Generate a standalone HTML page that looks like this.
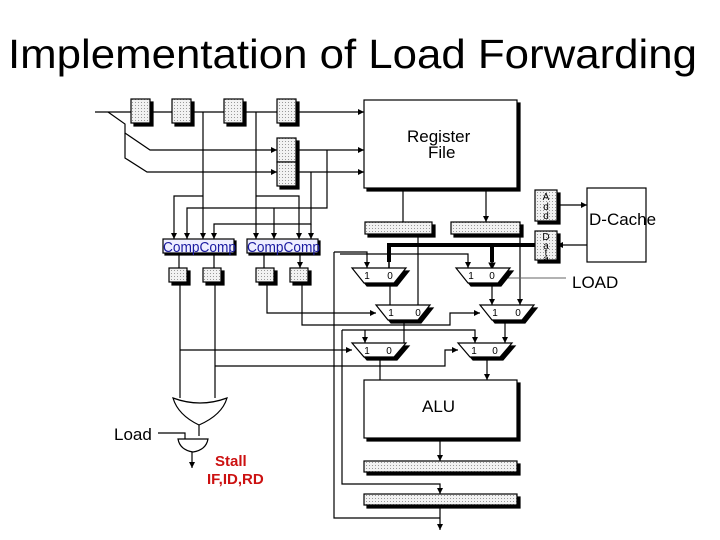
<!DOCTYPE html>
<html><head><meta charset="utf-8"><style>
body{margin:0;background:#fff;width:720px;height:540px;overflow:hidden}
svg{display:block}
</style></head><body>
<svg width="720" height="540" viewBox="0 0 720 540" xmlns="http://www.w3.org/2000/svg" font-family="Liberation Sans, sans-serif">
<defs>
<pattern id="dot" width="3" height="3" patternUnits="userSpaceOnUse"><rect width="3" height="3" fill="#f2f2f2"/><rect width="1" height="1" fill="#999"/></pattern>
<marker id="ar" markerWidth="6" markerHeight="6" refX="5" refY="3" orient="auto"><path d="M0,0.5 L5,3 L0,5.5z" fill="#000"/></marker>
</defs>
<text x="8" y="68" font-size="41" textLength="689" lengthAdjust="spacingAndGlyphs">Implementation of Load Forwarding</text>
<g stroke="#000" stroke-width="1.2" fill="none">
<path d="M95 112 H131 M150 112 H172 M190 112 H224 M242 112 H277 M296 112 H364" marker-end="url(#ar)"/>
<path d="M108 112 L125 124 V133 L150 150 H277" marker-end="url(#ar)"/>
<path d="M125 133 V158 L147 172 H277" marker-end="url(#ar)"/>
<path d="M296 150 H364" marker-end="url(#ar)"/>
<path d="M296 172 H364" marker-end="url(#ar)"/>
<path d="M203 112 V239" marker-end="url(#ar)"/>
<path d="M203 196 H174 V239" marker-end="url(#ar)"/>
<path d="M327 150 V208 H187 V239" marker-end="url(#ar)"/>
<path d="M256 112 V239" marker-end="url(#ar)"/>
<path d="M256 196 H299 V239" marker-end="url(#ar)"/>
<path d="M274 208 V239" marker-end="url(#ar)"/>
<path d="M311 172 V224 H214 V239" marker-end="url(#ar)"/>
<path d="M311 224 V239" marker-end="url(#ar)"/>
<path d="M179 253 V268 M214 253 V268 M264 253 V268 M300 253 V268" marker-end="url(#ar)"/>
<path d="M180 282 V398 M215 282 V398"/>
<path d="M180 350 H352" marker-end="url(#ar)"/>
<path d="M215 366 H445 V350 H458" marker-end="url(#ar)"/>
<path d="M267 282 V313 H376" marker-end="url(#ar)"/>
<path d="M302 282 V325 H450 V313 H480" marker-end="url(#ar)"/>
<path d="M403 188 V222 M486 188 V222" marker-end="url(#ar)"/>
<path d="M418 234 V305 M520 234 V305" marker-end="url(#ar)"/>
<path d="M535 245 H389 V262 M492 245 V262" stroke-width="4"/>
<path d="M389 262 V270 M492 262 V270" stroke-width="1.5" marker-end="url(#ar)"/>
<path d="M334 252 V518 H440"/>
<path d="M334 252 H367 V268" marker-end="url(#ar)"/>
<path d="M340 254 H468 V268" marker-end="url(#ar)"/>
<path d="M390 283 V305 M492 283 V305" marker-end="url(#ar)"/>
<path d="M404 320 V343 M505 320 V343" marker-end="url(#ar)"/>
<path d="M342 330 H475 V343" marker-end="url(#ar)"/>
<path d="M342 330 V484 H440 V494" marker-end="url(#ar)"/>
<path d="M365 330 V343" marker-end="url(#ar)"/>
<path d="M380 357 V380 M487 357 V380" marker-end="url(#ar)"/>
<path d="M440 438 V461" marker-end="url(#ar)"/>
<path d="M440 505 V530" marker-end="url(#ar)"/>
<path d="M557 205 H587" marker-end="url(#ar)"/>
<path d="M587 245 H557" marker-end="url(#ar)"/>
<path d="M506 278 H566" stroke="#666" stroke-width="1"/>
<path d="M173 398 Q200 408 227 398 Q222 415 199 425 Q178 415 173 398 Z" fill="#fff"/>
<path d="M199 425 V436"/>
<path d="M158 433 H185 V439"/>
<path d="M178 439 H208 Q206 450 193 452 Q180 450 178 439 Z" fill="#fff"/>
<path d="M192 452 V468" marker-end="url(#ar)"/>
</g>
<g stroke="#000" stroke-width="1.2">
<g fill="#000"><rect x="134" y="102" width="19" height="24"/><rect x="175" y="102" width="19" height="24"/><rect x="227" y="102" width="19" height="24"/><rect x="280" y="102" width="19" height="24"/><rect x="280" y="141" width="19" height="48"/>
<rect x="368" y="225" width="67" height="12"/><rect x="454" y="225" width="69" height="12"/>
<rect x="172" y="271" width="18" height="14"/><rect x="206" y="271" width="18" height="14"/><rect x="259" y="271" width="18" height="14"/><rect x="293" y="271" width="18" height="14"/>
<rect x="367" y="464" width="153" height="11"/><rect x="367" y="497" width="153" height="11"/>
<rect x="538" y="193" width="22" height="31"/><rect x="538" y="234" width="22" height="29"/>
<rect x="367" y="103" width="153" height="88"/><rect x="367" y="383" width="153" height="58"/></g>
<g fill="url(#dot)"><rect x="131" y="99" width="19" height="24"/><rect x="172" y="99" width="19" height="24"/><rect x="224" y="99" width="19" height="24"/><rect x="277" y="99" width="19" height="24"/><rect x="277" y="138" width="19" height="24"/><rect x="277" y="162" width="19" height="24"/>
<rect x="365" y="222" width="67" height="12"/><rect x="451" y="222" width="69" height="12"/>
<rect x="169" y="268" width="18" height="14"/><rect x="203" y="268" width="18" height="14"/><rect x="256" y="268" width="18" height="14"/><rect x="290" y="268" width="18" height="14"/>
<rect x="364" y="461" width="153" height="11"/><rect x="364" y="494" width="153" height="11"/>
<rect x="535" y="190" width="22" height="31"/><rect x="535" y="231" width="22" height="29"/></g>
<rect x="364" y="100" width="153" height="88" fill="#fff"/>
<rect x="364" y="380" width="153" height="58" fill="#fff"/>
<rect x="587" y="188" width="59" height="74" fill="#fff"/>
<rect x="165" y="241" width="71" height="14" fill="#000"/><rect x="249" y="241" width="71" height="14" fill="#000"/>
<rect x="163" y="239" width="71" height="14" fill="#eef"/><rect x="247" y="239" width="71" height="14" fill="#eef"/>
</g>
<g stroke="#000" stroke-width="1.2" font-size="10" text-anchor="middle">
<g fill="#000"><path d="M355 271 H409 L397 286 H367Z"/><path d="M459 271 H513 L501 286 H471Z"/><path d="M379 308 H433 L421 323 H391Z"/><path d="M483 308 H537 L525 323 H495Z"/><path d="M355 346 H409 L397 360 H367Z"/><path d="M461 346 H515 L503 360 H473Z"/></g>
<g fill="#fff"><path d="M352 268 H406 L394 283 H364Z"/><path d="M456 268 H510 L498 283 H468Z"/><path d="M376 305 H430 L418 320 H388Z"/><path d="M480 305 H534 L522 320 H492Z"/><path d="M352 343 H406 L394 357 H364Z"/><path d="M458 343 H512 L500 357 H470Z"/></g>
<g stroke="none" fill="#000"><text x="367" y="279">1</text><text x="390" y="279">0</text><text x="471" y="279">1</text><text x="492" y="279">0</text><text x="391" y="316">1</text><text x="418" y="316">0</text><text x="495" y="316">1</text><text x="518" y="316">0</text><text x="367" y="354">1</text><text x="389" y="354">0</text><text x="474" y="354">1</text><text x="495" y="354">0</text></g>
</g>
<g font-size="17" fill="#000">
<text x="407" y="142">Register</text><text x="428" y="158">File</text>
<text x="422" y="412">ALU</text>
<text x="589" y="225">D-Cache</text>
<text x="572" y="288">LOAD</text>
<text x="114" y="440">Load</text>
</g>
<g font-size="15" fill="#1a1aa0"><text x="163" y="252" textLength="73" lengthAdjust="spacingAndGlyphs">CompComp</text><text x="247" y="252" textLength="73" lengthAdjust="spacingAndGlyphs">CompComp</text></g>
<g font-size="10" fill="#000" text-anchor="middle"><text x="546" y="200">A</text><text x="546" y="210">d</text><text x="546" y="219">d</text><text x="546" y="240">D</text><text x="546" y="249">a</text><text x="546" y="256">t</text><text x="546" y="262">a</text></g>
<g font-size="15" font-weight="bold" fill="#cc1111"><text x="215" y="466">Stall</text><text x="207" y="484">IF,ID,RD</text></g>
</svg>
</body></html>
